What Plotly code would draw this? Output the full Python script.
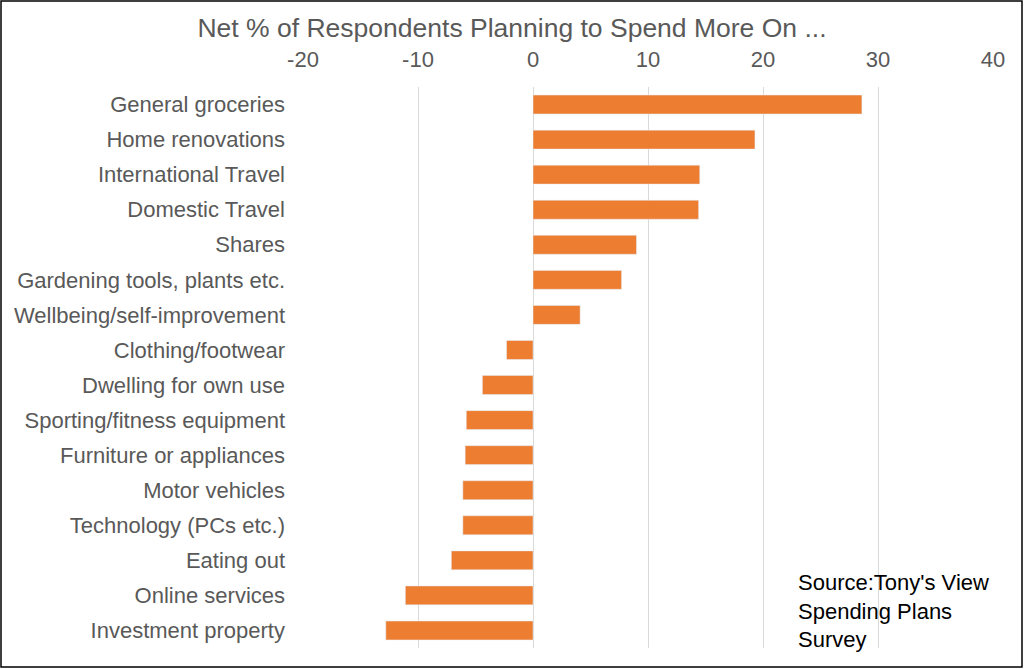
import plotly.graph_objects as go

# Survey categories (top to bottom) and net % values
categories = [
    "General groceries", "Home renovations", "International Travel",
    "Domestic Travel", "Shares", "Gardening tools, plants etc.",
    "Wellbeing/self-improvement", "Clothing/footwear", "Dwelling for own use",
    "Sporting/fitness equipment", "Furniture or appliances", "Motor vehicles",
    "Technology (PCs etc.)", "Eating out", "Online services", "Investment property",
]
net_pct = [28.6, 19.3, 14.5, 14.4, 9.0, 7.7, 4.1, -2.3, -4.4, -5.8, -5.9,
           -6.1, -6.1, -7.1, -11.1, -12.8]
tick_vals = [-20, -10, 0, 10, 20, 30, 40]
tick_text = [str(v) for v in tick_vals]  # plain hyphen like Excel

W, H = 1024, 669
L, R, T, B = 303, 31, 87, 21
pw, ph = W - L - R, H - T - B


def px_x(x):
    return (x - L) / pw


def px_y(y):
    return (H - B - y) / ph


fig = go.Figure(go.Bar(
    x=net_pct, y=categories, orientation="h",
    marker=dict(color="#ed7d31"), width=0.54,
    hovertemplate="%{y}: %{x}<extra></extra>",
))

fig.update_layout(
    width=W, height=H,
    margin=dict(l=L, r=R, t=T, b=B),
    paper_bgcolor="white", plot_bgcolor="white",
    font=dict(family="Liberation Sans, Arial", color="#595959", size=22),
    title=dict(text="Net % of Respondents Planning to Spend More On ...",
               x=512 / W, xanchor="center", y=1 - 28 / H, yanchor="middle",
               font=dict(size=26.5, color="#595959")),
    showlegend=False,
    xaxis=dict(side="top", range=[-20, 40], tickvals=tick_vals, ticktext=tick_text,
               showgrid=True, gridcolor="#d9d9d9", gridwidth=1,
               zeroline=False, showline=False, ticks="", ticklabelstandoff=15,
               tickfont=dict(size=22, color="#595959")),
    yaxis=dict(categoryorder="array", categoryarray=categories[::-1],
               showgrid=False, zeroline=False, showline=False,
               ticks="", ticklabelstandoff=17,
               tickfont=dict(size=22, color="#595959")),
)

# border round the whole chart
fig.add_shape(type="rect", xref="paper", yref="paper",
              x0=px_x(1), x1=px_x(1022), y0=px_y(667), y1=px_y(1),
              line=dict(color="black", width=1.5), fillcolor="rgba(0,0,0,0)")

fig.add_annotation(text="Source:Tony's View<br>Spending Plans<br>Survey",
                   xref="paper", yref="paper",
                   x=px_x(796), y=px_y(568),
                   xanchor="left", yanchor="top", align="left", showarrow=False,
                   font=dict(size=22, color="black"))

fig.write_html("out.html", config={"displayModeBar": False},
               post_script="document.body.style.margin='0';")
